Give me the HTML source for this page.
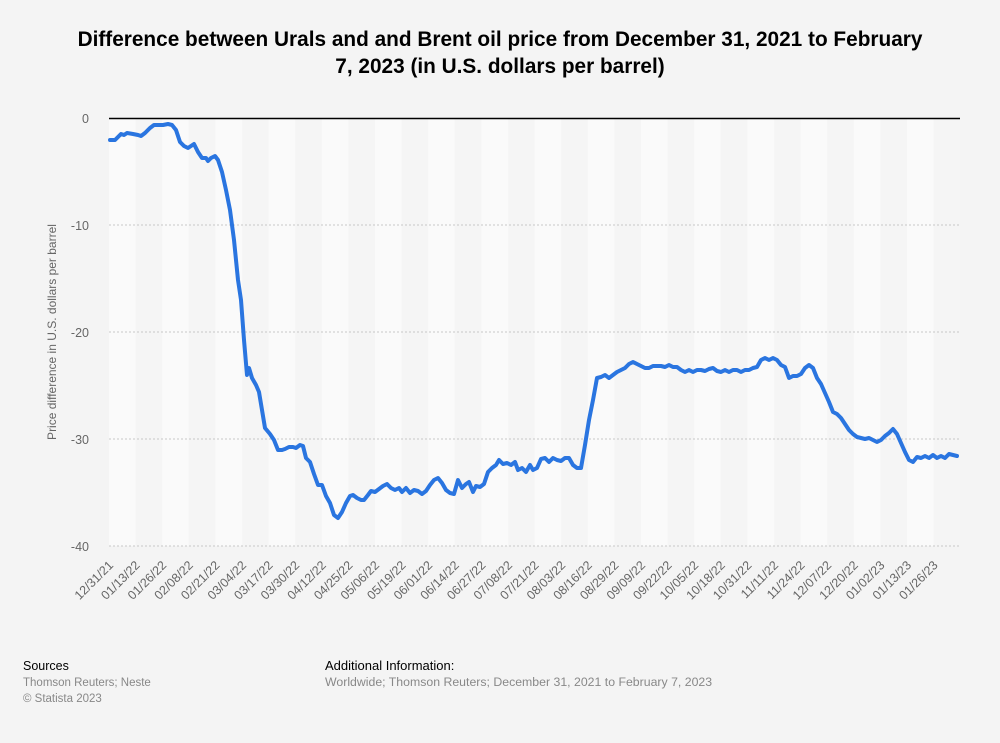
<!DOCTYPE html>
<html><head><meta charset="utf-8"><style>
html,body{margin:0;padding:0;background:#f4f4f4;}
svg{display:block;font-family:"Liberation Sans",sans-serif;}
</style></head><body>
<svg width="1000" height="743" viewBox="0 0 1000 743" xmlns="http://www.w3.org/2000/svg">
<defs>
<pattern id="bands" x="109" y="0" width="53.2" height="743" patternUnits="userSpaceOnUse">
<rect x="0" y="0" width="53.2" height="743" fill="#f5f5f5"/>
<rect x="0" y="0" width="26.6" height="743" fill="#fafafa"/>
</pattern>
</defs>
<rect width="1000" height="743" fill="#f4f4f4"/>
<text x="500" y="46" text-anchor="middle" font-size="20.8" font-weight="bold" fill="#000">Difference between Urals and and Brent oil price from December 31, 2021 to February</text>
<text x="500" y="73" text-anchor="middle" font-size="20.8" font-weight="bold" fill="#000">7, 2023 (in U.S. dollars per barrel)</text>
<rect x="109" y="118" width="851" height="428" fill="url(#bands)"/>
<g stroke="#c8c8c8" stroke-width="1" stroke-dasharray="2,2">
<line x1="109" y1="225" x2="960" y2="225"/>
<line x1="109" y1="332" x2="960" y2="332"/>
<line x1="109" y1="439" x2="960" y2="439"/>
<line x1="109" y1="546" x2="960" y2="546"/>
</g>
<line x1="109" y1="118.5" x2="960" y2="118.5" stroke="#000" stroke-width="1.5"/>
<g font-size="12.5" fill="#666" text-anchor="end">
<text x="89" y="123">0</text>
<text x="89" y="230">-10</text>
<text x="89" y="337">-20</text>
<text x="89" y="444">-30</text>
<text x="89" y="551">-40</text>
</g>
<text transform="translate(56,332) rotate(-90)" text-anchor="middle" font-size="12" fill="#666">Price difference in U.S. dollars per barrel</text>
<polyline fill="none" stroke="#2a75e0" stroke-width="4" stroke-linejoin="round" stroke-linecap="round" points="110,140 115,140 118,137 121,134 124,135 127,133 133,134 138,135 141,136 145,133 150,128 154,125 160,125 163,125 168,124 172,125 176,130 180,142 184,146 188,148 191,146 194,144 198,152 202,158 206,158 208,161 211,158 215,156 218,160 222,172 226,190 230,210 234,240 238,280 241,300 244,340 247,375 249,368 252,378 256,385 259,392 262,410 265,428 270,434 274,440 278,450 282,450 285,449 289,447 293,447 296,448 300,445 303,446 306,458 310,462 314,474 318,485 322,485 326,496 330,503 334,515 338,518 342,512 346,503 350,496 353,495 357,498 361,500 364,500 368,495 371,491 375,492 379,489 383,486 387,484 391,488 395,490 399,488 402,492 406,488 410,493 414,490 418,491 422,494 426,491 430,485 434,480 438,478 442,483 446,490 450,493 454,494 458,480 462,488 466,484 469,482 473,492 476,486 480,487 484,484 488,472 492,468 496,465 499,460 503,464 507,463 511,465 515,462 518,470 522,468 526,472 530,465 533,470 537,468 541,459 545,458 549,462 553,458 557,460 561,461 565,458 569,458 573,465 577,468 581,468 585,445 589,420 593,400 597,378 601,377 605,375 609,378 613,375 617,372 621,370 625,368 629,364 633,362 637,364 641,366 645,368 649,368 653,366 657,366 661,366 665,367 669,365 673,367 677,367 681,370 685,372 689,370 693,372 697,370 701,370 705,371 709,369 713,368 717,371 721,372 725,370 729,372 733,370 737,370 741,372 745,370 749,370 753,368 757,367 761,360 765,358 769,360 773,358 777,360 781,365 785,367 789,378 793,376 797,376 801,374 805,368 809,365 813,368 817,378 821,384 825,393 829,402 833,412 837,414 841,418 845,424 849,430 853,434 857,437 861,438 865,439 869,438 873,440 877,442 881,440 885,436 889,433 893,429 897,434 901,443 905,452 909,460 913,462 917,457 921,458 925,456 929,458 933,455 937,458 941,456 945,458 949,454 953,455 957,456"/>
<g font-size="12.5" fill="#666" text-anchor="end">
<text transform="translate(114,566) rotate(-45)">12/31/21</text>
<text transform="translate(140.6,566) rotate(-45)">01/13/22</text>
<text transform="translate(167.2,566) rotate(-45)">01/26/22</text>
<text transform="translate(193.8,566) rotate(-45)">02/08/22</text>
<text transform="translate(220.4,566) rotate(-45)">02/21/22</text>
<text transform="translate(247,566) rotate(-45)">03/04/22</text>
<text transform="translate(273.6,566) rotate(-45)">03/17/22</text>
<text transform="translate(300.2,566) rotate(-45)">03/30/22</text>
<text transform="translate(326.8,566) rotate(-45)">04/12/22</text>
<text transform="translate(353.4,566) rotate(-45)">04/25/22</text>
<text transform="translate(380,566) rotate(-45)">05/06/22</text>
<text transform="translate(406.6,566) rotate(-45)">05/19/22</text>
<text transform="translate(433.2,566) rotate(-45)">06/01/22</text>
<text transform="translate(459.8,566) rotate(-45)">06/14/22</text>
<text transform="translate(486.4,566) rotate(-45)">06/27/22</text>
<text transform="translate(513,566) rotate(-45)">07/08/22</text>
<text transform="translate(539.6,566) rotate(-45)">07/21/22</text>
<text transform="translate(566.2,566) rotate(-45)">08/03/22</text>
<text transform="translate(592.8,566) rotate(-45)">08/16/22</text>
<text transform="translate(619.4,566) rotate(-45)">08/29/22</text>
<text transform="translate(646,566) rotate(-45)">09/09/22</text>
<text transform="translate(672.6,566) rotate(-45)">09/22/22</text>
<text transform="translate(699.2,566) rotate(-45)">10/05/22</text>
<text transform="translate(725.8,566) rotate(-45)">10/18/22</text>
<text transform="translate(752.4,566) rotate(-45)">10/31/22</text>
<text transform="translate(779,566) rotate(-45)">11/11/22</text>
<text transform="translate(805.6,566) rotate(-45)">11/24/22</text>
<text transform="translate(832.2,566) rotate(-45)">12/07/22</text>
<text transform="translate(858.8,566) rotate(-45)">12/20/22</text>
<text transform="translate(885.4,566) rotate(-45)">01/02/23</text>
<text transform="translate(912,566) rotate(-45)">01/13/23</text>
<text transform="translate(938.6,566) rotate(-45)">01/26/23</text>
</g>
<text x="23" y="670" font-size="12.5" fill="#000">Sources</text>
<text x="23" y="686" font-size="11.5" fill="#888">Thomson Reuters; Neste</text>
<text x="23" y="702" font-size="11.5" fill="#888">© Statista 2023</text>
<text x="325" y="670" font-size="13" fill="#000">Additional Information:</text>
<text x="325" y="686" font-size="12.3" fill="#888">Worldwide; Thomson Reuters; December 31, 2021 to February 7, 2023</text>
</svg>
</body></html>
